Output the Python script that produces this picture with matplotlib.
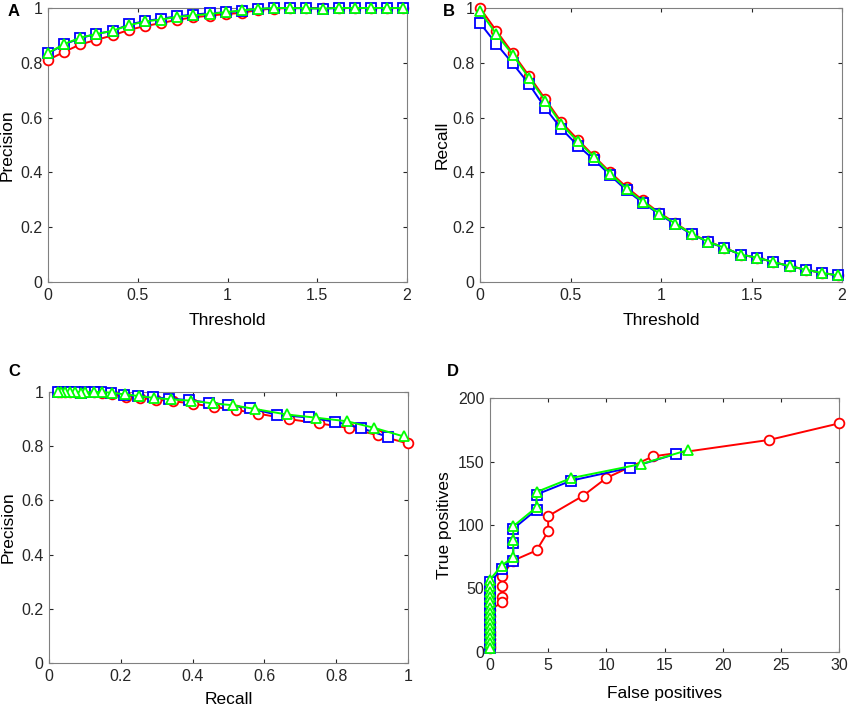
import matplotlib
matplotlib.use("Agg")
import matplotlib.pyplot as plt

# thresholds used for panels A and B
thresholds = [0.0, 0.09, 0.18, 0.27, 0.36, 0.45, 0.54, 0.63, 0.72, 0.81, 0.90, 0.99,
              1.08, 1.17, 1.26, 1.35, 1.44, 1.53, 1.62, 1.71, 1.80, 1.89, 1.98]

# precision vs threshold
prec_red = [0.810, 0.840, 0.867, 0.884, 0.900, 0.920, 0.934, 0.945, 0.957, 0.966, 0.972, 0.978,
            0.982, 0.993, 0.998, 1.0, 1.0, 1.0, 1.0, 1.0, 1.0, 1.0, 1.0]
prec_blue = [0.834, 0.867, 0.890, 0.906, 0.916, 0.940, 0.952, 0.961, 0.970, 0.976, 0.981, 0.984,
             0.990, 0.996, 1.0, 1.0, 0.999, 0.998, 1.0, 1.0, 1.0, 1.0, 1.0]
prec_green = [0.836, 0.868, 0.892, 0.905, 0.917, 0.937, 0.951, 0.958, 0.968, 0.973, 0.978, 0.985,
              0.991, 0.997, 1.0, 1.0, 0.999, 0.998, 1.0, 1.0, 1.0, 1.0, 1.0]

# recall vs threshold
rec_red = [1.000, 0.917, 0.836, 0.753, 0.668, 0.583, 0.520, 0.459, 0.400, 0.346, 0.298, 0.253,
           0.215, 0.176, 0.148, 0.125, 0.100, 0.089, 0.073, 0.058, 0.045, 0.033, 0.024]
rec_blue = [0.945, 0.869, 0.798, 0.723, 0.635, 0.559, 0.498, 0.446, 0.389, 0.334, 0.289, 0.247,
            0.210, 0.174, 0.146, 0.124, 0.100, 0.089, 0.073, 0.058, 0.045, 0.033, 0.024]
rec_green = [0.988, 0.905, 0.830, 0.745, 0.662, 0.575, 0.513, 0.456, 0.395, 0.340, 0.293, 0.250,
             0.213, 0.175, 0.147, 0.125, 0.100, 0.089, 0.073, 0.058, 0.045, 0.033, 0.024]

# panel D: false positives / true positives
fp_red = [30, 24, 14, 10, 8, 5, 5, 4, 2, 1, 1, 1, 1, 0, 0, 0, 0, 0, 0, 0, 0, 0, 0]
tp_red = [180, 167, 154, 137, 123, 107, 95, 80, 72, 60, 52, 43, 39, 33, 28, 24, 20, 16, 13, 10, 7, 5, 3]
fp_blue = [16, 12, 7, 4, 4, 2, 2, 2, 1, 0, 0, 0, 0, 0, 0, 0, 0, 0, 0, 0, 0, 0, 0]
tp_blue = [156, 145, 135, 124, 112, 97, 86, 72, 65, 55, 50, 46, 42, 38, 34, 30, 26, 22, 18, 14, 10, 6, 3]
fp_green = [17, 13, 7, 4, 4, 2, 2, 2, 1, 0, 0, 0, 0, 0, 0, 0, 0, 0, 0, 0, 0, 0, 0]
tp_green = [159, 148, 137, 126, 114, 99, 88, 75, 68, 57, 52, 47, 43, 39, 35, 31, 27, 23, 19, 15, 11, 7, 3]

plt.rcParams['font.family'] = ['Liberation Sans', 'DejaVu Sans']

fig = plt.figure(figsize=(8.5, 7.1), dpi=100)
W, H = 850, 710


def make_ax(l, t, r, b):
    return fig.add_axes([l / W, 1 - b / H, (r - l) / W, (b - t) / H])


axA = make_ax(48, 8, 407, 282)
axB = make_ax(480, 8, 842, 282)
axC = make_ax(49, 392, 408, 663)
axD = make_ax(490, 398, 839, 652)

styles = [('r', 'o', 7), ('b', 's', 6.5), ('#00ff00', '^', 7.5)]


def draw(ax, series):
    for (c, m, ms), (x, y) in zip(styles, series):
        ax.plot(x, y, color=c, marker=m, ms=ms, mfc='white', mec=c, mew=1.3, lw=1.4,
                clip_on=False, zorder=3)


draw(axA, [(thresholds, prec_red), (thresholds, prec_blue), (thresholds, prec_green)])
draw(axB, [(thresholds, rec_red), (thresholds, rec_blue), (thresholds, rec_green)])
draw(axC, [(rec_red, prec_red), (rec_blue, prec_blue), (rec_green, prec_green)])
draw(axD, [(fp_red, tp_red), (fp_blue, tp_blue), (fp_green, tp_green)])


def fmt(v):
    return ('%g' % v)


for ax in (axA, axB):
    ax.set_xlim(0, 2)
    ax.set_ylim(0, 1)
    ax.set_xticks([0, 0.5, 1, 1.5, 2])
    ax.set_xlabel('Threshold', fontsize=12.5)
axA.set_ylabel('Precision', fontsize=12.5)
axB.set_ylabel('Recall', fontsize=12.5)
axC.set_xlim(0, 1)
axC.set_ylim(0, 1)
axC.set_xticks([0, 0.2, 0.4, 0.6, 0.8, 1])
axC.set_xlabel('Recall', fontsize=12.5)
axC.set_ylabel('Precision', fontsize=12.5)
axD.set_xlim(0, 30)
axD.set_ylim(0, 200)
axD.set_xticks(range(0, 31, 5))
axD.set_yticks(range(0, 201, 50))
axD.set_xlabel('False positives', fontsize=12.5)
axD.set_ylabel('True positives', fontsize=12.5)

for ax in (axA, axB, axC):
    ax.set_yticks([0, 0.2, 0.4, 0.6, 0.8, 1])

axA.yaxis.set_label_coords(-0.092, 0.5)
axB.yaxis.set_label_coords(-0.083, 0.5)
axC.yaxis.set_label_coords(-0.092, 0.5)
axD.yaxis.set_label_coords(-0.11, 0.5)
axA.xaxis.set_label_coords(0.5, -0.113)
axB.xaxis.set_label_coords(0.5, -0.113)
axC.xaxis.set_label_coords(0.5, -0.108)
axD.xaxis.set_label_coords(0.5, -0.132)

for ax in (axA, axB, axC, axD):
    ax.set_xticklabels([fmt(v) for v in ax.get_xticks()])
    ax.set_yticklabels([fmt(v) for v in ax.get_yticks()])
    ax.tick_params(direction='in', top=True, right=True, length=3, width=0.8,
                   colors='#262626', labelsize=11.5, pad=4)
    for s in ax.spines.values():
        s.set_color('#808080')
        s.set_linewidth(0.8)

for lbl, x, y in [('A', 8, 12), ('B', 443, 12), ('C', 8, 372), ('D', 447, 372)]:
    fig.text(x / W, 1 - y / H, lbl, fontsize=12, fontweight='bold', va='center', ha='left')

fig.savefig('out.png', dpi=100)
